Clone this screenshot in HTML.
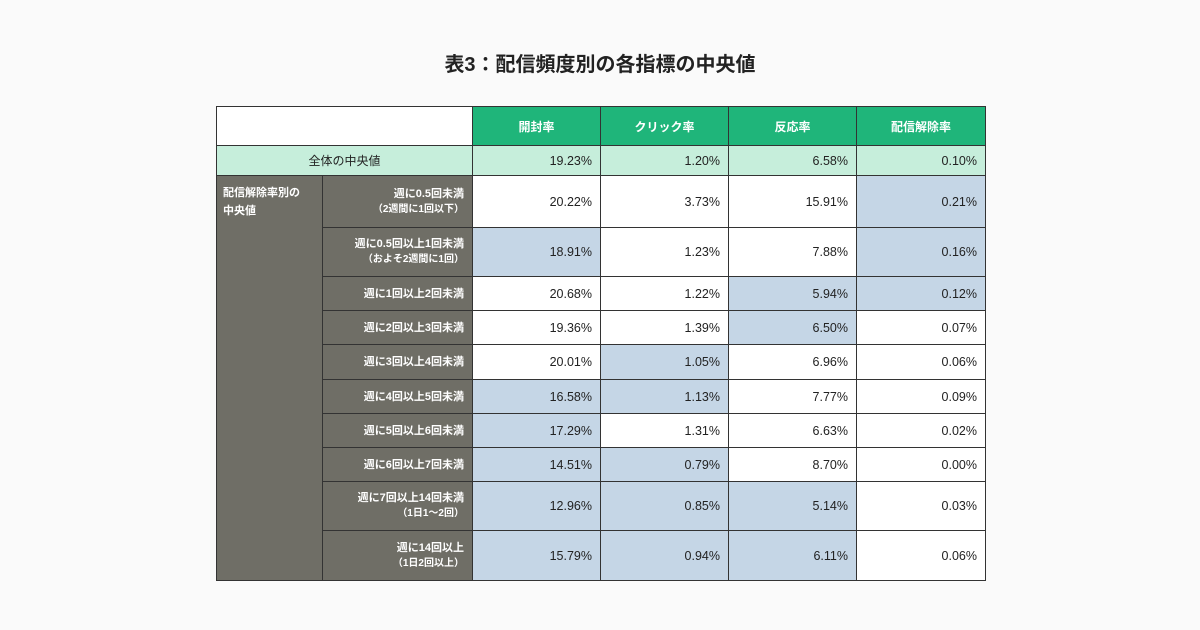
<!DOCTYPE html>
<html><head><meta charset="utf-8">
<style>
body{margin:0;width:1200px;height:630px;background:#fafafa;font-family:"Liberation Sans","Noto Sans CJK JP",sans-serif;position:relative;overflow:hidden}
#title{position:absolute;left:0;width:1200px;top:48px;text-align:center;font-size:20px;font-weight:bold;color:#222}
.c{position:absolute;box-sizing:border-box;border:1px solid #333;display:flex;align-items:center;font-size:12px;color:#222}
.h{background:#1fb57a;color:#fff;font-weight:bold;justify-content:center}
.v{justify-content:flex-end;padding-right:8px;font-size:12.5px}
.g{background:#6f6e66;color:#fff;font-weight:bold;font-size:11px}
</style></head><body>
<div id="title">表3：配信頻度別の各指標の中央値</div>
<div id="t"></div>
<script>
const metrics=["開封率","クリック率","反応率","配信解除率"];
const overall=["19.23%","1.20%","6.58%","0.10%"];
const rowLabels=[["週に0.5回未満","（2週間に1回以下）"],["週に0.5回以上1回未満","（およそ2週間に1回）"],["週に1回以上2回未満"],["週に2回以上3回未満"],["週に3回以上4回未満"],["週に4回以上5回未満"],["週に5回以上6回未満"],["週に6回以上7回未満"],["週に7回以上14回未満","（1日1〜2回）"],["週に14回以上","（1日2回以上）"]];
const values=[["20.22%","3.73%","15.91%","0.21%"],["18.91%","1.23%","7.88%","0.16%"],["20.68%","1.22%","5.94%","0.12%"],["19.36%","1.39%","6.50%","0.07%"],["20.01%","1.05%","6.96%","0.06%"],["16.58%","1.13%","7.77%","0.09%"],["17.29%","1.31%","6.63%","0.02%"],["14.51%","0.79%","8.70%","0.00%"],["12.96%","0.85%","5.14%","0.03%"],["15.79%","0.94%","6.11%","0.06%"]];
const highlight=[[0,0,0,1],[1,0,0,1],[0,0,1,1],[0,0,1,0],[0,1,0,0],[1,1,0,0],[1,0,0,0],[1,1,0,0],[1,1,1,0],[1,1,1,0]];
const colX=[216,322,472,600,728,856,985];
const rowY=[106,145,175,227,276,310,344,379,413,447,481,530,580];
const t=document.getElementById('t');
function cell(x1,y1,x2,y2,cls,html,bg){const d=document.createElement('div');d.className='c '+cls;d.style.left=x1+'px';d.style.top=y1+'px';d.style.width=(x2-x1+1)+'px';d.style.height=(y2-y1+1)+'px';if(bg)d.style.background=bg;d.innerHTML=html;t.appendChild(d);return d;}
let e=cell(colX[0],rowY[0],colX[2],rowY[1],'','','#fff');


metrics.forEach((m,i)=>{const d=cell(colX[2+i],rowY[0],colX[3+i],rowY[1],'h',m);

});
e=cell(colX[0],rowY[1],colX[2],rowY[2],'','全体の中央値','#c6eedb');e.style.justifyContent='center';


overall.forEach((v,i)=>{const d=cell(colX[2+i],rowY[1],colX[3+i],rowY[2],'v',v,'#c6eedb');

});
e=cell(colX[0],rowY[2],colX[1],rowY[12],'g','配信解除率別の<br>中央値');e.style.alignItems='flex-start';e.style.padding='8px 6px';e.style.lineHeight='18px';


rowLabels.forEach((l,r)=>{const y1=rowY[2+r],y2=rowY[3+r];
const d=cell(colX[1],y1,colX[2],y2,'g',l.map((s,k)=>'<div style="font-size:'+(k?10:11)+'px;line-height:16px">'+s+'</div>').join(''));
d.style.flexDirection='column';d.style.alignItems='flex-end';d.style.justifyContent='center';d.style.paddingRight='8px';


values[r].forEach((v,i)=>{const c=cell(colX[2+i],y1,colX[3+i],y2,'v',v,highlight[r][i]?'#c5d6e6':'#fff');

});});
</script>
</body></html>
